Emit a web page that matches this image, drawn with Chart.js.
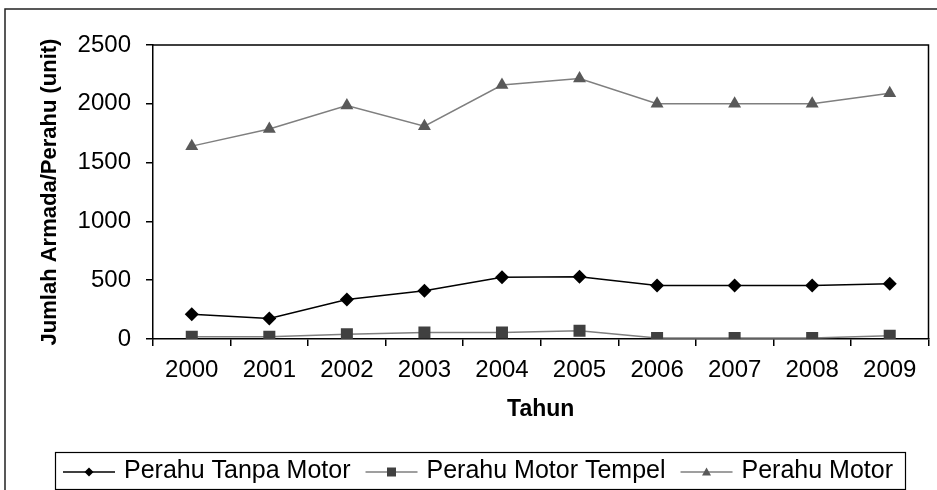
<!DOCTYPE html>
<html><head><meta charset="utf-8">
<script src="https://cdn.jsdelivr.net/npm/chart.js@4/dist/chart.umd.min.js"></script>
<style>html,body{margin:0;padding:0;background:#fff}#wrap{width:937px;height:490px}</style>
</head><body><div id="wrap"><canvas id="c" width="937" height="490"></canvas></div>
<script>
const years = ['2000','2001','2002','2003','2004','2005','2006','2007','2008','2009'];
const tanpaMotor = [210, 175, 335, 410, 525, 530, 455, 455, 455, 470];
const motorTempel = [20, 20, 40, 55, 55, 70, 8, 8, 8, 28];
const perahuMotor = [1640, 1785, 1985, 1810, 2160, 2215, 2000, 2000, 2000, 2090];
const seriesNames = ['Perahu Tanpa Motor', 'Perahu Motor Tempel', 'Perahu Motor'];
const yTicks = [0, 500, 1000, 1500, 2000, 2500];
const yTickLabels = ['0', '500', '1000', '1500', '2000', '2500'];
const yTitle = 'Jumlah Armada/Perahu (unit)';
const xTitle = 'Tahun';

const FONT = '"Liberation Sans", Arial, sans-serif';

function drawMarker(ctx, style, x, y, s, fill) {
  ctx.save();
  ctx.fillStyle = fill;
  ctx.beginPath();
  if (style === 'rectRot') {
    ctx.moveTo(x, y - s); ctx.lineTo(x + s, y); ctx.lineTo(x, y + s); ctx.lineTo(x - s, y);
  } else if (style === 'rect') {
    ctx.rect(x - s, y - s, 2 * s, 2 * s);
  } else {
    ctx.moveTo(x, y - s); ctx.lineTo(x + s, y + s * 0.75); ctx.lineTo(x - s, y + s * 0.75);
  }
  ctx.closePath();
  ctx.fill();
  ctx.restore();
}

const framePlugin = {
  id: 'frame',
  beforeDraw(chart) {
    const ctx = chart.ctx;
    ctx.save();
    ctx.fillStyle = '#fff';
    ctx.fillRect(0, 0, chart.width, chart.height);
    ctx.strokeStyle = '#222';
    ctx.lineWidth = 1.5;
    ctx.beginPath();
    ctx.moveTo(5, 490); ctx.lineTo(5, 9); ctx.lineTo(937, 9);
    ctx.stroke();
    ctx.restore();
  },
  afterDraw(chart) {
    const ctx = chart.ctx;
    const a = chart.chartArea;
    ctx.save();
    ctx.strokeStyle = '#000';
    ctx.lineWidth = 1.5;
    ctx.beginPath();
    ctx.moveTo(a.left, a.top); ctx.lineTo(a.right, a.top); ctx.lineTo(a.right, a.bottom);
    ctx.stroke();
    // legend
    ctx.strokeStyle = '#000';
    ctx.lineWidth = 1.2;
    ctx.strokeRect(55.5, 452.5, 850, 37);
    const ly = 472;
    ctx.font = '25px ' + FONT;
    ctx.textBaseline = 'middle';
    let x = 63;
    chart.data.datasets.forEach((ds) => {
      ctx.strokeStyle = ds.borderColor;
      ctx.lineWidth = ds.borderWidth;
      ctx.beginPath(); ctx.moveTo(x, ly); ctx.lineTo(x + 52, ly); ctx.stroke();
      drawMarker(ctx, ds.pointStyle, x + 26, ly, 4.5, ds.pointBackgroundColor);
      ctx.fillStyle = '#000';
      ctx.fillText(ds.label, x + 61, ly - 1);
      x = x + 61 + ctx.measureText(ds.label).width + 15;
    });
    ctx.restore();
  }
};

new Chart(document.getElementById('c'), {
  type: 'line',
  data: {
    labels: years,
    datasets: [
      { label: seriesNames[0], data: tanpaMotor, borderColor: '#000', borderWidth: 1.5,
        pointStyle: 'rectRot', pointRadius: 7, pointBackgroundColor: '#000', pointBorderColor: '#000', pointBorderWidth: 0, tension: 0 },
      { label: seriesNames[1], data: motorTempel, borderColor: '#7f7f7f', borderWidth: 1.5,
        pointStyle: 'rect', pointRadius: 8.5, pointBackgroundColor: '#404040', pointBorderColor: '#404040', pointBorderWidth: 0, tension: 0 },
      { label: seriesNames[2], data: perahuMotor, borderColor: '#7f7f7f', borderWidth: 1.5,
        pointStyle: 'triangle', pointRadius: 7.5, pointBackgroundColor: '#595959', pointBorderColor: '#595959', pointBorderWidth: 0, tension: 0 }
    ]
  },
  options: {
    responsive: false,
    animation: false,
    devicePixelRatio: 1,
    layout: { padding: { left: 0, top: 45, right: 2, bottom: 0 } },
    plugins: { legend: { display: false }, tooltip: { enabled: false } },
    scales: {
      x: {
        offset: true,
        grid: { offset: true, drawOnChartArea: false, drawTicks: true, tickLength: 7, color: '#000', lineWidth: 1.5 },
        border: { display: true, color: '#000', width: 1.5 },
        ticks: { color: '#000', font: { family: FONT, size: 24 }, padding: 10, maxRotation: 0, autoSkip: false },
        title: { display: true, text: xTitle, color: '#000', font: { family: FONT, size: 23, weight: 'bold' }, padding: { top: 0, bottom: 67 } },
        afterFit(s) { s.height = 151; }
      },
      y: {
        min: 0, max: 2500,
        afterBuildTicks(s) { s.ticks = yTicks.map(v => ({ value: v })); },
        grid: { drawOnChartArea: false, drawTicks: true, tickLength: 7, color: '#000', lineWidth: 1.5 },
        border: { display: true, color: '#000', width: 1.5 },
        ticks: { color: '#000', font: { family: FONT, size: 24 }, padding: 15,
          callback: (v) => { const i = yTicks.indexOf(v); return i >= 0 ? yTickLabels[i] : String(v); } },
        title: { display: true, text: yTitle, color: '#000', font: { family: FONT, size: 22, weight: 'bold' }, padding: { top: 37, bottom: 0 } },
        afterFit(s) { s.width = 153; }
      }
    }
  },
  plugins: [framePlugin]
});
</script>
</body></html>
